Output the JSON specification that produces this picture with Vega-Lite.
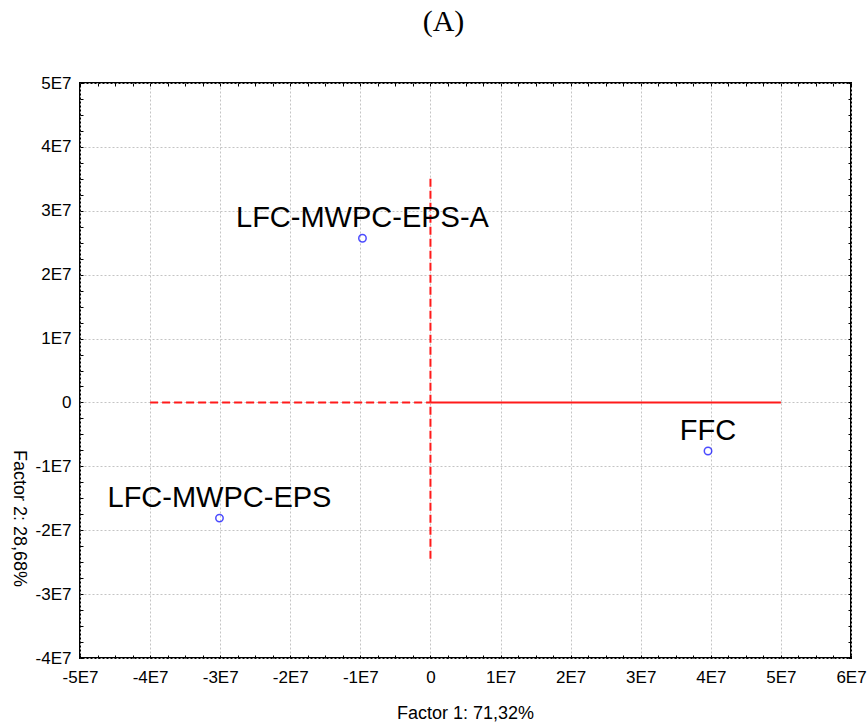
{
  "$schema": "https://vega.github.io/schema/vega-lite/v6.json",
  "width": 771,
  "height": 575,
  "autosize": {"type": "none"},
  "padding": {"left": 80, "top": 83, "right": 17, "bottom": 65},
  "background": "white",
  "title": {"text": "(A)", "font": "Liberation Serif", "fontSize": 30, "fontWeight": "normal", "color": "black", "anchor": "middle", "dx": -22, "baseline": "alphabetic", "offset": 13},
  "config": {
    "view": {"stroke": "black", "strokeWidth": 2},
    "axis": {
      "labelFont": "Liberation Sans", "labelFontSize": 17, "labelColor": "black",
      "titleFont": "Liberation Sans", "titleFontSize": 18, "titleFontWeight": "normal", "titleColor": "black",
      "domain": false, "tickColor": "black", "tickWidth": 1,
      "labelFlush": false, "labelOverlap": false, "labelBound": false,
      "gridColor": "#c4c4c4", "gridDash": [2, 2], "gridWidth": 1
    }
  },
  "datasets": {
    "points": [
      {"x": -9700000, "y": 25700000, "label": "LFC-MWPC-EPS-A"},
      {"x": -30100000, "y": -18100000, "label": "LFC-MWPC-EPS"},
      {"x": 39600000, "y": -7600000, "label": "FFC"}
    ],
    "dashed": [
      {"x1": 0, "x2": 0, "y1": 35000000, "y2": -25000000},
      {"x1": -40000000, "x2": 0, "y1": 0, "y2": 0}
    ],
    "solid": [
      {"x1": 0, "x2": 50000000, "y1": 0, "y2": 0}
    ]
  },
  "resolve": {"axis": {"x": "independent", "y": "independent"}},
  "layer": [
    {
      "data": {"name": "dashed"},
      "mark": {"type": "rule", "color": "#ff1a1a", "strokeWidth": 2, "strokeDash": [8, 4]},
      "encoding": {
        "x": {"field": "x1", "type": "quantitative", "scale": {"domain": [-50000000, 60000000], "nice": false, "zero": false}, "axis": null},
        "x2": {"field": "x2"},
        "y": {"field": "y1", "type": "quantitative", "scale": {"domain": [-40000000, 50000000], "nice": false, "zero": false}, "axis": null},
        "y2": {"field": "y2"}
      }
    },
    {
      "data": {"name": "solid"},
      "mark": {"type": "rule", "color": "#ff1a1a", "strokeWidth": 2},
      "encoding": {
        "x": {"field": "x1", "type": "quantitative", "axis": null},
        "x2": {"field": "x2"},
        "y": {"field": "y1", "type": "quantitative", "axis": null},
        "y2": {"field": "y2"}
      }
    },
    {
      "data": {"name": "points"},
      "mark": {"type": "point", "shape": "circle", "filled": false, "color": "#0000ff", "size": 55, "strokeWidth": 1.5},
      "encoding": {
        "x": {
          "field": "x", "type": "quantitative",
          "axis": {
            "orient": "bottom", "title": "Factor 1: 71,32%",
            "titleX": 385, "titleY": 60, "titleBaseline": "alphabetic", "titleAlign": "center", "titleAnchor": null,
            "values": [-50000000,-47500000,-45000000,-42500000,-40000000,-37500000,-35000000,-32500000,-30000000,-27500000,-25000000,-22500000,-20000000,-17500000,-15000000,-12500000,-10000000,-7500000,-5000000,-2500000,0,2500000,5000000,7500000,10000000,12500000,15000000,17500000,20000000,22500000,25000000,27500000,30000000,32500000,35000000,37500000,40000000,42500000,45000000,47500000,50000000,52500000,55000000,57500000,60000000],
            "labelExpr": "datum.value % 10000000 === 0 ? (datum.value === 0 ? '0' : (datum.value / 10000000) + 'E7') : ''",
            "grid": true,
            "gridOpacity": {"condition": {"test": "datum.value % 10000000 === 0", "value": 1}, "value": 0},
            "tickSize": -3, "labelPadding": 14
          }
        },
        "y": {
          "field": "y", "type": "quantitative",
          "axis": {
            "orient": "left", "title": "Factor 2: 28,68%",
            "titleAngle": 90, "titleX": -62, "titleY": 435, "titleAlign": "center", "titleBaseline": "middle", "titleAnchor": null,
            "values": [-40000000,-37500000,-35000000,-32500000,-30000000,-27500000,-25000000,-22500000,-20000000,-17500000,-15000000,-12500000,-10000000,-7500000,-5000000,-2500000,0,2500000,5000000,7500000,10000000,12500000,15000000,17500000,20000000,22500000,25000000,27500000,30000000,32500000,35000000,37500000,40000000,42500000,45000000,47500000,50000000],
            "labelExpr": "datum.value % 10000000 === 0 ? (datum.value === 0 ? '0' : (datum.value / 10000000) + 'E7') : ''",
            "grid": true,
            "gridOpacity": {"condition": {"test": "datum.value % 10000000 === 0", "value": 1}, "value": 0},
            "tickSize": -3, "labelPadding": 12
          }
        }
      }
    },
    {
      "data": {"name": "points"},
      "mark": {"type": "text", "font": "Liberation Sans", "fontSize": 29, "color": "black", "align": "center", "baseline": "alphabetic", "dy": -11},
      "encoding": {
        "x": {
          "field": "x", "type": "quantitative",
          "axis": {
            "orient": "top", "title": null, "labels": false, "grid": false,
            "values": [-50000000,-47500000,-45000000,-42500000,-40000000,-37500000,-35000000,-32500000,-30000000,-27500000,-25000000,-22500000,-20000000,-17500000,-15000000,-12500000,-10000000,-7500000,-5000000,-2500000,0,2500000,5000000,7500000,10000000,12500000,15000000,17500000,20000000,22500000,25000000,27500000,30000000,32500000,35000000,37500000,40000000,42500000,45000000,47500000,50000000,52500000,55000000,57500000,60000000],
            "tickSize": -3
          }
        },
        "y": {
          "field": "y", "type": "quantitative",
          "axis": {
            "orient": "right", "title": null, "labels": false, "grid": false,
            "values": [-40000000,-37500000,-35000000,-32500000,-30000000,-27500000,-25000000,-22500000,-20000000,-17500000,-15000000,-12500000,-10000000,-7500000,-5000000,-2500000,0,2500000,5000000,7500000,10000000,12500000,15000000,17500000,20000000,22500000,25000000,27500000,30000000,32500000,35000000,37500000,40000000,42500000,45000000,47500000,50000000],
            "tickSize": -3
          }
        },
        "text": {"field": "label"}
      }
    }
  ]
}
